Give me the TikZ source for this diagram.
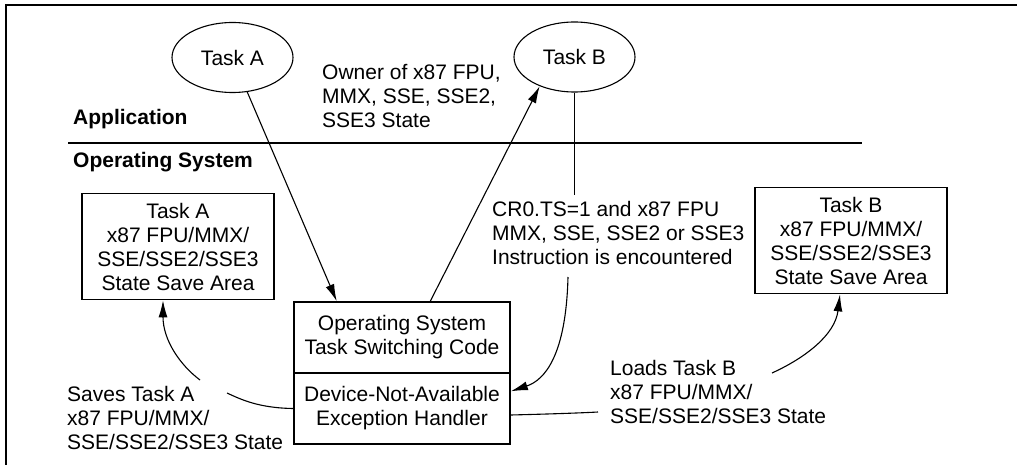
\documentclass[tikz,border=0pt]{standalone}
\usepackage{fontspec}
\setmainfont{Liberation Sans}
\usetikzlibrary{arrows.meta,calc,shapes.geometric}
\begin{document}
\begin{tikzpicture}[x=1pt, y=-1pt,
        every node/.style={font=\fontsize{21}{24}\selectfont, inner sep=0pt},
        task/.style={ellipse, draw, line width=1.1pt, minimum width=121pt, minimum height=70pt},
        box/.style={rectangle, draw, line width=1.7pt, minimum width=192pt, minimum height=106pt, align=center},
        oscbox/.style={rectangle, draw, line width=1.7pt, minimum width=216pt, minimum height=71pt, align=center},
        note/.style={anchor=west, align=left},
        layername/.style={anchor=west, font=\fontsize{21}{24}\selectfont\bfseries},
        arrow/.style={-{Latex[length=17pt, width=9pt]}, line width=1.1pt},
        thinline/.style={line width=1.1pt},
        sepline/.style={line width=1.8pt}
    ]
        \useasboundingbox (0,0) rectangle (1017,465);
        \draw[sepline] (6,465) -- (6,5) -- (1017,5);

        \node[task] (taskA) at (232.5,57.5) {Task A};
        \node[task] (taskB) at (574.5,57) {Task B};
        \node[note] (owner) at (322,96) {Owner of x87 FPU,\\MMX, SSE, SSE2,\\SSE3 State};

        \node[layername] (app) at (73,119) {Application};
        \node[layername] (os)  at (73,162) {Operating System};
        \draw[sepline] (68,143) -- (862,143);

        \node[box]    (areaA) at (178,246.5) {Task A\\x87 FPU/MMX/\\SSE/SSE2/SSE3\\State Save Area};
        \node[box]    (areaB) at (851,240.5) {Task B\\x87 FPU/MMX/\\SSE/SSE2/SSE3\\State Save Area};
        \node[oscbox] (osc)   at (402,337.5) {Operating System\\Task Switching Code};
        \node[oscbox] (dna)   at (402,408.5) {Device-Not-Available\\Exception Handler};

        \node[note] (cr)    at (492,233) {CR0.TS=1 and x87 FPU\\MMX, SSE, SSE2 or SSE3\\Instruction is encountered};
        \node[note] (saves) at (67,418)  {Saves Task A\\x87 FPU/MMX/\\SSE/SSE2/SSE3 State};
        \node[note] (loads) at (610,392) {Loads Task B\\x87 FPU/MMX/\\SSE/SSE2/SSE3 State};

        \coordinate (crtop)   at (taskB.south |- 0,195);
        \coordinate (crbot)   at (568,277);
        \coordinate (saveslo) at (227,393);
        \coordinate (saveshi) at (200,380);
        \coordinate (loadslo) at (598,412);
        \coordinate (loadshi) at (772,373);

        \draw[arrow] (taskA) -- ($(osc.north west)!0.2!(osc.north east)$);
        \draw[arrow] ($(osc.north west)!0.63!(osc.north east)$) -- (taskB.220);
        \draw[thinline] (taskB.south) -- (crtop);
        \draw[arrow] (crbot) .. controls (566,355) and (545,380) .. (dna.9);
        \draw[thinline] (dna.west) .. controls (258,408) and (240,399) .. (saveslo);
        \draw[arrow] (saveshi) .. controls (180,365) and (163,340) .. ($(areaA.south)+(-15,0)$);
        \draw[thinline] ($(dna.east)+(0,6.5)$) .. controls (550,414) and (580,413) .. (loadslo);
        \draw[arrow] (loadshi) .. controls (805,358) and (835,335) .. ($(areaB.south)+(-11,0)$);
    \end{tikzpicture}
\end{document}
